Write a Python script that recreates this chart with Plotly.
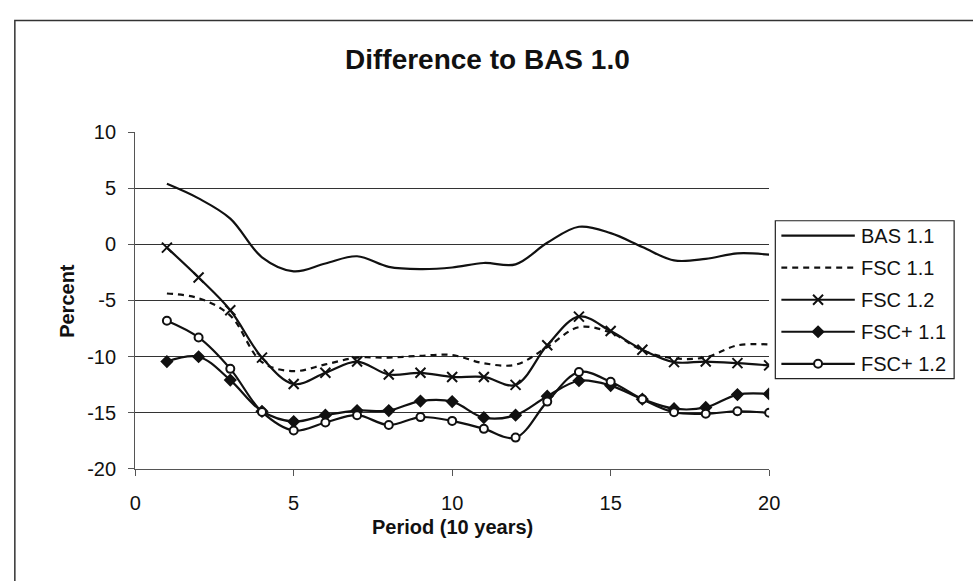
import plotly.graph_objects as go

# Period index (10-year steps)
periods = list(range(1, 21))

# Percent difference to BAS 1.0 per scenario
bas_11 = [5.4, 4.1, 2.3, -1.15, -2.4, -1.7, -1.06, -2.0, -2.2, -2.06,
          -1.66, -1.78, 0.14, 1.57, 1.0, -0.23, -1.43, -1.29, -0.8, -0.92]
fsc_11 = [-4.38, -4.8, -6.35, -10.5, -11.3, -10.7, -10.1, -10.1, -9.93, -9.87,
          -10.6, -10.73, -9.16, -7.38, -7.87, -9.45, -10.16, -10.07, -9.0, -8.93]
fsc_12 = [-0.29, -2.95, -5.87, -10.1, -12.45, -11.45, -10.45, -11.6, -11.45, -11.82,
          -11.82, -12.53, -9.0, -6.44, -7.73, -9.39, -10.5, -10.45, -10.59, -10.79]
fscp_11 = [-10.45, -10.02, -12.1, -14.88, -15.8, -15.23, -14.82, -14.82, -13.97, -14.02,
           -15.45, -15.23, -13.54, -12.16, -12.59, -13.8, -14.65, -14.54, -13.39, -13.34]
fscp_12 = [-6.81, -8.3, -11.1, -14.94, -16.6, -15.88, -15.23, -16.11, -15.4, -15.74,
           -16.45, -17.23, -14.02, -11.39, -12.25, -13.8, -14.97, -15.1, -14.88, -15.02]

series_names = ["BAS 1.1", "FSC 1.1", "FSC 1.2", "FSC+ 1.1", "FSC+ 1.2"]
series_values = [bas_11, fsc_11, fsc_12, fscp_11, fscp_12]

y_ticks = [-20, -15, -10, -5, 0, 5, 10]
y_tick_labels = ["-20", "-15", "-10", "-5", "0", "5", "10"]
x_ticks = [0, 5, 10, 15, 20]
x_tick_labels = ["0", "5", "10", "15", "20"]

FONT = "Arial, Liberation Sans, sans-serif"
INK = "#111111"

# per-series styling: (dash, marker symbol, marker fill, marker size)
styles = [
    ("solid", None, None, 0),
    ("6px,5px", None, None, 0),
    ("solid", "x-thin", INK, 10),
    ("solid", "diamond", INK, 8),
    ("solid", "circle", "white", 8),
]

W, H = 973, 581
# plot area in pixels
PL, PR, PT, PB = 131.5, 776.7, 126.0, 475.7

fig = go.Figure()

for name, vals, (dash, sym, fill, msize) in zip(series_names, series_values, styles):
    marker = dict(size=msize, color=fill, symbol=sym or "circle",
                  line=dict(color=INK, width=2))
    fig.add_trace(go.Scatter(
        x=periods, y=vals, name=name,
        mode="lines+markers" if sym else "lines",
        line=dict(color=INK, width=2.2, dash=dash, shape="spline", smoothing=1.0),
        marker=marker if sym else None,
        showlegend=False, xaxis="x", yaxis="y",
    ))

# legend samples drawn on a small auxiliary axis pair
for i, (name, (dash, sym, fill, msize)) in enumerate(zip(series_names, styles)):
    fig.add_trace(go.Scatter(
        x=[0, 1], y=[i, i], mode="lines",
        line=dict(color=INK, width=2.2, dash=dash),
        showlegend=False, hoverinfo="skip", xaxis="x2", yaxis="y2",
    ))
    if sym:
        fig.add_trace(go.Scatter(
            x=[0.5], y=[i], mode="markers",
            marker=dict(size=msize, color=fill, symbol=sym,
                        line=dict(color=INK, width=2)),
            showlegend=False, hoverinfo="skip", xaxis="x2", yaxis="y2",
        ))

annotations = []
for i, name in enumerate(series_names):
    annotations.append(dict(
        x=868 / W, xref="paper", y=i, yref="y2", text=name,
        showarrow=False, xanchor="left", yanchor="middle",
        font=dict(family=FONT, size=20, color=INK),
    ))

# axis titles
annotations.append(dict(
    x=(PL + PR) / 2 / W, y=(H - 536) / H, xref="paper", yref="paper",
    text="<b>Period (10 years)</b>", showarrow=False,
    xanchor="center", yanchor="middle",
    font=dict(family=FONT, size=20, color=INK),
))
annotations.append(dict(
    x=62.5 / W, y=(H - (PT + PB) / 2) / H, xref="paper", yref="paper",
    text="<b>Percent</b>", showarrow=False, textangle=-90,
    xanchor="center", yanchor="middle",
    font=dict(family=FONT, size=20, color=INK),
))
annotations.append(dict(
    x=490 / W, y=(H - 50) / H, xref="paper", yref="paper",
    text="<b>Difference to BAS 1.0</b>", showarrow=False,
    xanchor="center", yanchor="middle",
    font=dict(family=FONT, size=28, color=INK),
))

shapes = [
    # chart-area frame
    dict(type="rect", xref="paper", yref="paper",
         x0=9 / W, x1=1.2, y0=-0.2, y1=(H - 10) / H,
         line=dict(color="#333333", width=1.5), layer="below"),
    # legend box
    dict(type="rect", xref="paper", yref="paper",
         x0=783 / W, x1=965 / W, y0=(H - 382) / H, y1=(H - 218) / H,
         line=dict(color="#222222", width=1.2), fillcolor="white", layer="below"),
]

fig.update_layout(
    width=W, height=H,
    margin=dict(l=0, r=0, t=0, b=0),
    paper_bgcolor="white", plot_bgcolor="white",
    font=dict(family=FONT, size=20, color=INK),
    showlegend=False,
    xaxis=dict(
        domain=[PL / W, PR / W], range=[0, 20],
        tickvals=x_ticks, ticktext=x_tick_labels,
        showgrid=False, zeroline=False,
        showline=True, linecolor="#555555", linewidth=1.2,
        ticks="outside", ticklen=6, tickcolor="#555555",
        ticklabelstandoff=10,
        tickfont=dict(family=FONT, size=20, color=INK),
        anchor="y",
    ),
    yaxis=dict(
        domain=[(H - PB) / H, (H - PT) / H], range=[-20, 10],
        tickvals=y_ticks, ticktext=y_tick_labels,
        showgrid=True, gridcolor="#333333", gridwidth=1, zeroline=False,
        showline=True, linecolor="#555555", linewidth=1.2,
        ticks="outside", ticklen=6, tickcolor="#555555",
        ticklabelstandoff=8,
        tickfont=dict(family=FONT, size=20, color=INK),
        anchor="x",
    ),
    xaxis2=dict(domain=[789 / W, 864 / W], range=[0, 1], visible=False,
                anchor="y2", fixedrange=True),
    yaxis2=dict(domain=[(H - 382) / H, (H - 218) / H], range=[4.46, -0.465],
                visible=False, anchor="x2", fixedrange=True),
    annotations=annotations,
    shapes=shapes,
)

fig.write_html("out.html")
